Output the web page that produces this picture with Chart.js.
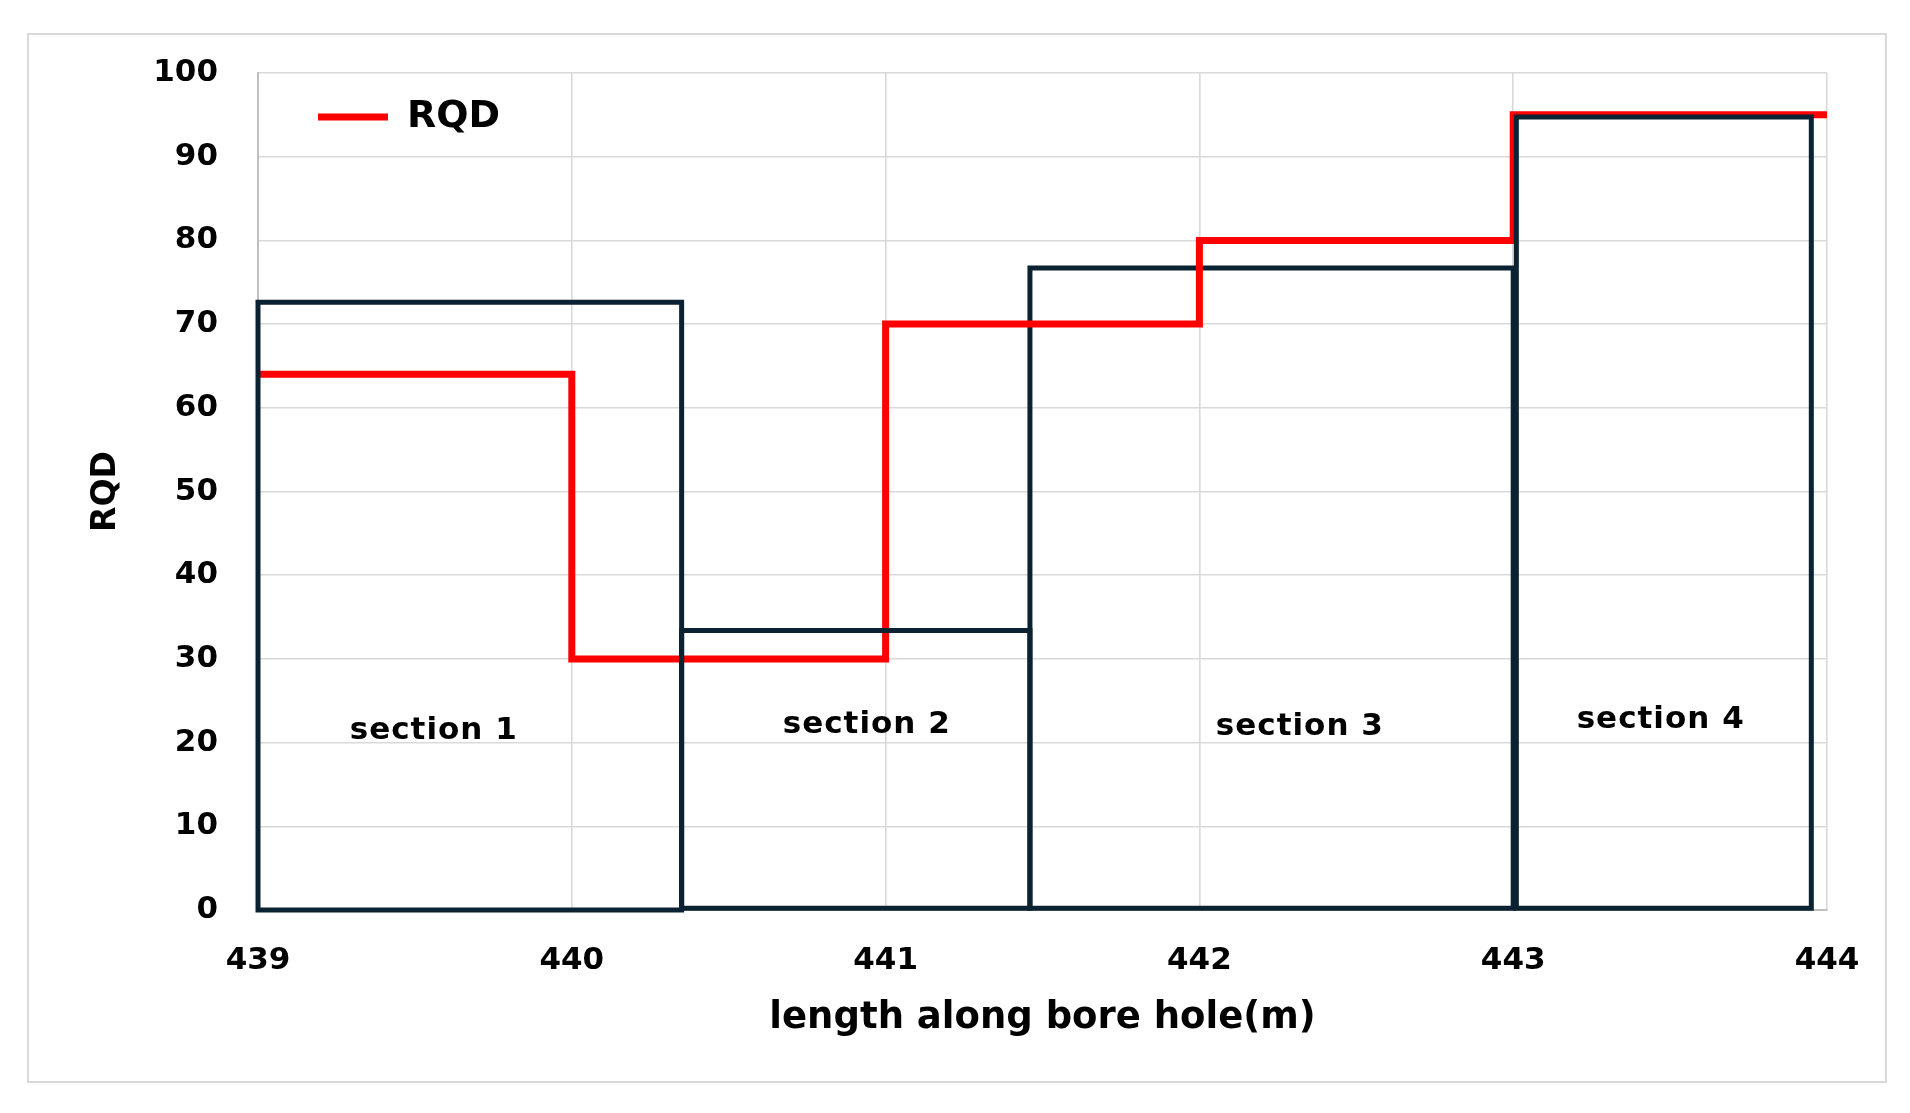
<!DOCTYPE html>
<html>
<head>
<meta charset="utf-8">
<title>RQD along bore hole</title>
<script src="https://cdn.jsdelivr.net/npm/chart.js@4.4.1/dist/chart.umd.min.js"></script>
<style>
  html, body { margin: 0; padding: 0; background: #fff; }
  canvas { display: block; }
</style>
</head>
<body>
<canvas id="rqdChart" width="1910" height="1113"></canvas>
<script>
// RQD step line (value holds from each depth to the next)
const rqdDepth = [439, 440, 441, 442, 443, 444];
const rqdValue = [64, 30, 70, 80, 95, 95];

// section boxes
const sectionNames = ['section 1', 'section 2', 'section 3', 'section 4'];
const sectionFrom = [439, 440.35, 441.46, 443.01];
const sectionTo = [440.35, 441.46, 443, 443.95];
const sectionTop = [72.6, 33.4, 76.7, 94.75];
const sectionBase = [0, 0.2, 0.2, 0.2];
const sectionLabelX = [439.56, 440.94, 442.32, 443.47];
const sectionLabelY = [20.4, 21.1, 20.9, 21.8];

const xTicks = [439, 440, 441, 442, 443, 444];
const yTicks = [0, 10, 20, 30, 40, 50, 60, 70, 80, 90, 100];

const FONT = "'DejaVu Sans', 'Liberation Sans', sans-serif";
const BOX_COLOR = '#0b2232';
const GRID_COLOR = '#d9d9d9';

function boxPoints(i) {
    return [
        { x: sectionFrom[i], y: sectionBase[i] },
        { x: sectionFrom[i], y: sectionTop[i] },
        { x: sectionTo[i], y: sectionTop[i] },
        { x: sectionTo[i], y: sectionBase[i] },
        { x: sectionFrom[i], y: sectionBase[i] }
    ];
}

const datasets = [{
    label: 'RQD',
    data: rqdDepth.map((d, i) => ({ x: d, y: rqdValue[i] })),
    borderColor: '#ff0000',
    backgroundColor: '#ff0000',
    borderWidth: 7,
    stepped: 'before',
    pointRadius: 0,
    fill: false,
    clip: false,
    order: 1
}];

sectionNames.forEach((name, i) => {
    datasets.push({
        label: name,
        data: boxPoints(i),
        borderColor: BOX_COLOR,
        borderWidth: 5,
        borderCapStyle: 'square',
        borderJoinStyle: 'miter',
        tension: 0,
        pointRadius: 0,
        fill: false,
        clip: false,
        // section 3 sits under the red line, the others over it
        order: i === 2 ? 2 : 0
    });
});

// white page + light grey outer frame
const framePlugin = {
    id: 'frame',
    beforeDraw(chart) {
        const ctx = chart.ctx;
        ctx.save();
        ctx.fillStyle = '#fff';
        ctx.fillRect(0, 0, chart.width, chart.height);
        ctx.strokeStyle = GRID_COLOR;
        ctx.lineWidth = 2;
        ctx.strokeRect(28, 34, 1858, 1048);
        ctx.restore();
    }
};

// "section n" text inside each box
const sectionLabelPlugin = {
    id: 'sectionLabels',
    afterDatasetsDraw(chart) {
        const { ctx, scales: { x, y } } = chart;
        ctx.save();
        ctx.font = 'bold 31px ' + FONT;
        ctx.letterSpacing = '1px';
        ctx.fillStyle = '#000';
        ctx.textAlign = 'center';
        ctx.textBaseline = 'alphabetic';
        sectionNames.forEach((name, i) => {
            ctx.fillText(name, x.getPixelForValue(sectionLabelX[i]), y.getPixelForValue(sectionLabelY[i]));
        });
        ctx.restore();
    }
};

// legend sits inside the plot, near the top-left corner
const legendShift = {
    id: 'legendShift',
    afterLayout(chart) {
        const lg = chart.legend;
        if (lg) {
            const h = lg.bottom - lg.top;
            lg.left = chart.chartArea.left + 60;
            lg.top = chart.chartArea.top + 25;
            lg.bottom = lg.top + h;
        }
    }
};

new Chart(document.getElementById('rqdChart'), {
    type: 'line',
    data: { datasets: datasets },
    options: {
        responsive: false,
        animation: false,
        events: [],
        layout: { padding: { left: 0, top: 73, right: 83, bottom: 0 } },
        plugins: {
            legend: {
                position: 'chartArea',
                align: 'start',
                labels: {
                    filter: (item) => item.datasetIndex === 0,
                    usePointStyle: true,
                    pointStyle: 'line',
                    pointStyleWidth: 70,
                    padding: 0,
                    color: '#000',
                    font: { family: FONT, size: 38, weight: 'bold' }
                }
            },
            tooltip: { enabled: false }
        },
        scales: {
            x: {
                type: 'linear',
                min: 439,
                max: 444,
                afterBuildTicks: (s) => { s.ticks = xTicks.map(v => ({ value: v })); },
                afterFit: (s) => { s.height = 203; },
                grid: { color: GRID_COLOR, lineWidth: 1.6, drawTicks: false },
                border: { color: '#bfbfbf', width: 2 },
                ticks: {
                    padding: 32,
                    color: '#000',
                    font: { family: FONT, size: 31, weight: 'bold' }
                },
                title: {
                    display: true,
                    text: 'length along bore hole(m)',
                    color: '#000',
                    font: { family: FONT, size: 37, weight: 'bold' },
                    padding: { top: 0, bottom: 72 }
                }
            },
            y: {
                min: 0,
                max: 100,
                afterBuildTicks: (s) => { s.ticks = yTicks.map(v => ({ value: v })); },
                afterFit: (s) => { s.width = 258; },
                grid: { color: GRID_COLOR, lineWidth: 1.6, drawTicks: false },
                border: { color: '#bfbfbf', width: 2 },
                ticks: {
                    padding: 40,
                    color: '#000',
                    font: { family: FONT, size: 31, weight: 'bold' }
                },
                title: {
                    display: true,
                    text: 'RQD',
                    color: '#000',
                    font: { family: FONT, size: 33, weight: 'bold' },
                    padding: { top: 87, bottom: 0 }
                }
            }
        }
    },
    plugins: [framePlugin, sectionLabelPlugin, legendShift]
});
</script>
</body>
</html>
